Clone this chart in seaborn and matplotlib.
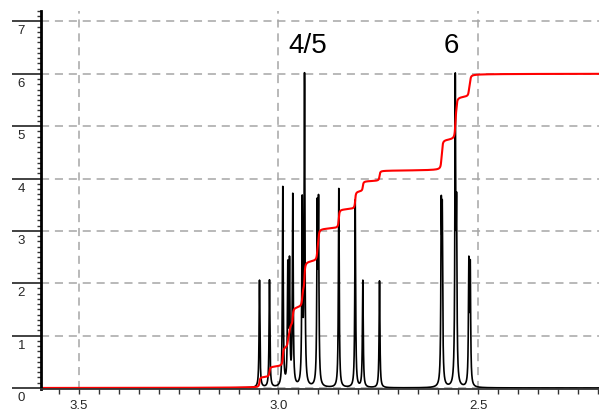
import numpy as np
import pandas as pd
import matplotlib
matplotlib.use("Agg")
import matplotlib.pyplot as plt
import seaborn as sns
from matplotlib.ticker import MultipleLocator

# peak positions (ppm) and peak heights
peak_ppm = [3.0476, 3.0226, 2.9892, 2.9767, 2.9724, 2.9642, 2.9406, 2.9348,
            2.9030, 2.8997, 2.8489, 2.8078, 2.7887, 2.7469,
            2.5922, 2.5897, 2.5571, 2.5539, 2.5231, 2.5196]
peak_height = [2.05, 2.05, 3.80, 2.20, 2.25, 3.62, 3.42, 5.86,
               3.22, 3.30, 3.80, 3.58, 2.04, 2.04,
               3.09, 2.99, 5.63, 3.02, 2.27, 2.20]
half_width = 0.0012  # ppm, lorentzian hwhm
integral_total = 6.0

labels = ["4/5", "6"]
label_ppm = [2.927, 2.566]
label_y = 6.56

y_ticks = [0, 1, 2, 3, 4, 5, 6, 7]
x_ticks = [3.5, 3.0, 2.5]

# build spectrum from the peak list
ppm = np.linspace(3.6, 2.19, 30000)
spec = np.zeros_like(ppm)
for p, h in zip(peak_ppm, peak_height):
    spec += h * half_width**2 / ((ppm - p)**2 + half_width**2)

# running integral, from high ppm to low ppm, scaled to total
integ = np.cumsum(spec)
integ = integ / integ[-1] * integral_total

df = pd.DataFrame({"ppm": ppm, "spec": spec, "integ": integ})

sns.set_style("white")
plt.rcParams["font.family"] = ["Liberation Sans", "DejaVu Sans"]

fig = plt.figure(figsize=(5.99, 4.14), dpi=100)
ax = fig.add_axes([41/599, 24/414, 558/599, 378/414])

ax.set_axisbelow(True)
ax.grid(True, which="major", linestyle=(0, (5.3, 3.8)), color="#a6a6a6", lw=1.1)

sns.lineplot(data=df, x="ppm", y="spec", ax=ax, color="black", lw=1.2,
             estimator=None, sort=False)
sns.lineplot(data=df, x="ppm", y="integ", ax=ax, color="#ff0000", lw=1.5,
             estimator=None, sort=False)

for lab, xp in zip(labels, label_ppm):
    ax.text(xp, label_y, lab, fontsize=20, ha="center", va="center", color="black")

ax.set_xlim(3.595, 2.197)
ax.set_ylim(-0.02, 7.2)
ax.set_xlabel("")
ax.set_ylabel("")

ax.set_xticks(x_ticks)
ax.set_xticklabels([str(v) for v in x_ticks])
ax.xaxis.set_minor_locator(MultipleLocator(0.05))
ax.set_yticks(y_ticks)
ax.set_yticklabels([str(v) for v in y_ticks])
ax.yaxis.set_minor_locator(MultipleLocator(0.1))

ax.tick_params(axis="x", which="both", direction="out", length=3.5, width=1,
               color="#333333", labelsize=9.5, pad=4, bottom=True)
ax.tick_params(axis="y", which="major", direction="out", length=21, width=1.3,
               color="#333333", labelsize=9.5, pad=-9.5, left=True)
ax.tick_params(axis="y", which="minor", direction="out", length=3, width=1,
               color="#333333", left=True)
plt.setp(ax.get_yticklabels(), va="top")
for lab in ax.get_yticklabels():
    lab.set_y(lab.get_position()[1])
# nudge y labels a little below their tick lines
import matplotlib.transforms as mtrans
off = mtrans.ScaledTranslation(0, -3/100, fig.dpi_scale_trans)
for lab in ax.get_yticklabels():
    lab.set_transform(lab.get_transform() + off)

for s in ["top", "right"]:
    ax.spines[s].set_visible(False)
ax.spines["left"].set_linewidth(2)
ax.spines["left"].set_color("black")
ax.spines["bottom"].set_linewidth(1.3)
ax.spines["bottom"].set_color("#333333")

fig.savefig("out.png", dpi=100)
plt.close(fig)
